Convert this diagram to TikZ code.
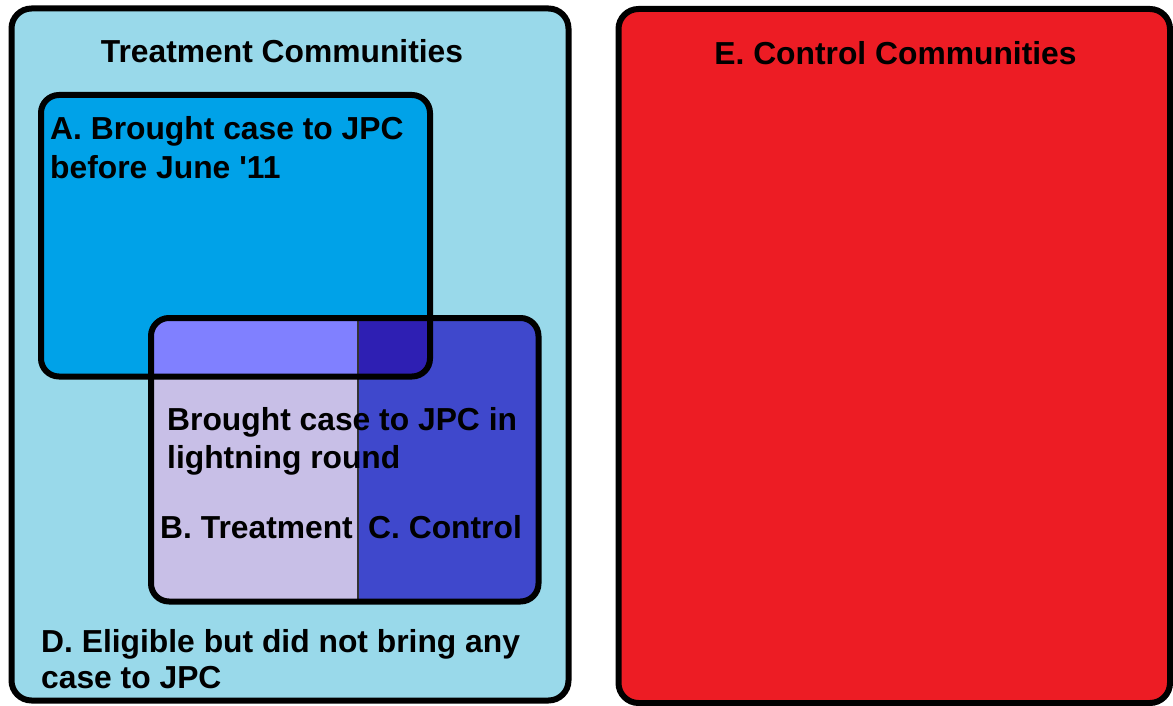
\documentclass[tikz,border=0pt]{standalone}
\usepackage{fontspec}
\setmainfont{Liberation Sans}
\definecolor{treatbg}{HTML}{99D9EA}
\definecolor{earlyA}{HTML}{00A2E8}
\definecolor{ctrlred}{HTML}{ED1C24}
\definecolor{lavender}{HTML}{C8BFE7}
\definecolor{ctrlblue}{HTML}{3F48CC}
\definecolor{overlapL}{HTML}{8080FF}
\definecolor{overlapR}{HTML}{2E1FB3}
% multi-line label whose baseline is that of its first line
\newcommand{\stacklines}[1]{\begin{tabular}[t]{@{}l@{}}#1\end{tabular}}
\begin{document}
\begin{tikzpicture}[x=1pt,y=-1pt,
  frame/.style={draw=black,line width=6pt,rounded corners=#1},
  frame/.default=20pt,
  lbl/.style={inner sep=0pt,anchor=base west,
    font=\bfseries\fontsize{31.8}{#1}\selectfont},
  lbl/.default=38pt,
  title/.style={inner sep=0pt,anchor=base,
    font=\bfseries\fontsize{31.8}{38}\selectfont},
]
\useasboundingbox (0,0) rectangle (1173,706);

% treatment communities panel
\path[fill=treatbg,frame] (11.5,8.5) rectangle (568.5,700.5);

% control communities panel
\path[fill=ctrlred,frame] (618.5,9) rectangle (1170,703);

% A: cases before June '11
\fill[earlyA,rounded corners=18pt] (41,95) rectangle (430,376.5);

% lightning-round box, split into treatment / control halves
\begin{scope}
  \clip[rounded corners=18pt] (151,318) rectangle (538.5,601.5);
  \fill[lavender] (151,318) rectangle (358,601.5);
  \fill[ctrlblue] (358,318) rectangle (538.5,601.5);
  \clip[rounded corners=18pt] (41,95) rectangle (430,376.5);
  \fill[overlapL] (151,318) rectangle (358,376.5);
  \fill[overlapR] (358,318) rectangle (430,376.5);
\end{scope}
\draw[line width=1.2pt,black!80] (358,318) -- (358,601.5);

% outlines of the inner boxes
\draw[frame=18pt] (41,95) rectangle (430,376.5);
\draw[frame=18pt] (151,318) rectangle (538.5,601.5);

% labels
\node[title] (treat) at (282,63) {Treatment Communities};
\node[title] (ctrl) at (895.5,65) {E. Control Communities};
\node[lbl=39pt] (a) at (50,140) {\stacklines{A. Brought case to JPC\\ before June \textquotesingle 11}};
\node[lbl=38pt] (light) at (167,430) {\stacklines{Brought case to JPC in\\ lightning round}};
\node[lbl] (b) at (160,538) {B. Treatment};
\node[lbl] (c) at (368,538) {C. Control};
\node[lbl=36pt] (d) at (41,652) {\stacklines{D. Eligible but did not bring any\\ case to JPC}};
\end{tikzpicture}
\end{document}
